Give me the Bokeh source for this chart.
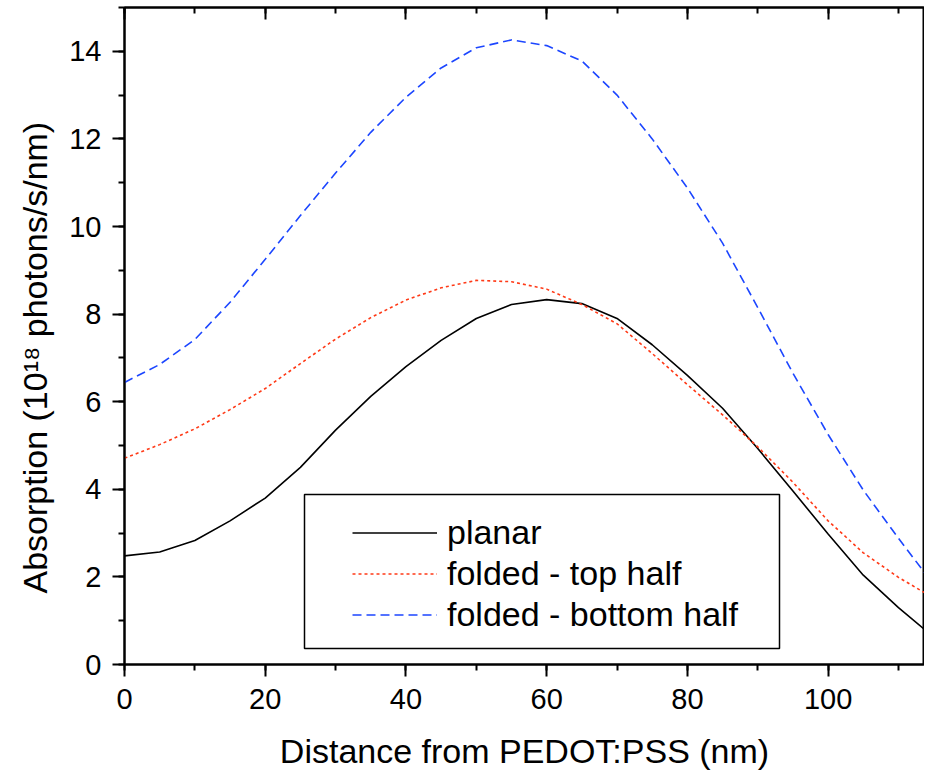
from bokeh.plotting import figure
from bokeh.models import (Range1d, LinearAxis, SingleIntervalTicker, Title,
                          Legend, LegendItem, BoxAnnotation,
                          CustomLabelingPolicy)
from bokeh.embed import file_html
from bokeh.resources import INLINE

# ---------------- data ----------------
distance = [0, 5, 10, 15, 20, 25, 30, 35, 40, 45, 50, 55, 60, 65, 70, 75,
            80, 85, 90, 95, 100, 105, 110, 113.7]
planar = [2.48, 2.57, 2.83, 3.28, 3.80, 4.50, 5.35, 6.12, 6.80, 7.40, 7.90,
          8.22, 8.33, 8.24, 7.90, 7.30, 6.60, 5.85, 4.93, 3.96, 2.98, 2.04,
          1.30, 0.80]
folded_top = [4.71, 5.02, 5.38, 5.82, 6.30, 6.87, 7.43, 7.92, 8.32, 8.60,
              8.77, 8.74, 8.57, 8.22, 7.78, 7.10, 6.39, 5.70, 4.97, 4.16,
              3.28, 2.55, 1.99, 1.64]
folded_bottom = [6.44, 6.85, 7.42, 8.27, 9.25, 10.25, 11.22, 12.15, 12.95,
                 13.62, 14.08, 14.26, 14.13, 13.78, 13.00, 12.00, 10.88, 9.62,
                 8.15, 6.65, 5.25, 3.98, 2.88, 2.10]
series_names = ["planar", "folded - top half", "folded - bottom half"]

x_title = "Distance from PEDOT:PSS (nm)"
y_title = "Absorption (10\u00b9\u2078 photons/s/nm)"

FONT = "Liberation Sans"

p = figure(frame_width=800, frame_height=657, output_backend="svg",
           toolbar_location=None, x_range=Range1d(0, 113.7),
           y_range=Range1d(0, 15), min_border_left=124, min_border_top=7,
           min_border_right=0, min_border_bottom=0,
           background_fill_color="white", border_fill_color="white")
p.xgrid.visible = False
p.ygrid.visible = False
p.outline_line_color = "black"
p.outline_line_width = 2

xax = p.xaxis[0]
yax = p.yaxis[0]
xax.ticker = SingleIntervalTicker(interval=20, num_minor_ticks=2)
yax.ticker = SingleIntervalTicker(interval=2, num_minor_ticks=2)
for ax in (xax, yax):
    ax.axis_line_width = 2
    ax.axis_line_color = "black"
    ax.major_tick_line_width = 2
    ax.minor_tick_line_width = 2
    ax.major_tick_line_color = "black"
    ax.minor_tick_line_color = "black"
    ax.major_tick_out = 12
    ax.major_tick_in = 0
    ax.minor_tick_out = 6
    ax.minor_tick_in = 0
    ax.major_label_text_font = FONT
    ax.major_label_text_font_size = "29px"
    ax.major_label_text_color = "black"
xax.major_label_standoff = 12
yax.major_label_standoff = 11
xax.axis_label = x_title
xax.axis_label_text_font = FONT
xax.axis_label_text_font_size = "34px"
xax.axis_label_text_font_style = "normal"
xax.axis_label_text_color = "black"
xax.axis_label_standoff = 20

top = LinearAxis(ticker=SingleIntervalTicker(interval=20, num_minor_ticks=2),
                 major_tick_in=12, major_tick_out=0, minor_tick_in=6,
                 minor_tick_out=0, major_tick_line_width=2,
                 minor_tick_line_width=2, axis_line_width=2,
                 major_label_text_font_size="1px", major_label_standoff=0,
                 major_label_policy=CustomLabelingPolicy(
                     code="for (const i of indices) indices.unset(i)"))
p.add_layout(top, "above")

ytitle = Title(text=y_title, align="left", offset=71, standoff=26,
               text_font=FONT, text_font_size="34px",
               text_font_style="normal", text_color="black")
p.add_layout(ytitle, "left")

r1 = p.line(distance, planar, line_color="black", line_width=1.6)
r2 = p.line(distance, folded_top, line_color="#ff3a17", line_width=1.6,
            line_dash="3 3")
r3 = p.line(distance, folded_bottom, line_color="#1c46ff", line_width=1.6,
            line_dash="9 5")

box = BoxAnnotation(left=180, right=655, bottom=16, top=170,
                    left_units="screen", right_units="screen",
                    bottom_units="screen", top_units="screen",
                    fill_color="white", fill_alpha=1.0,
                    line_color="black", line_width=1.5, line_alpha=1.0)
p.add_layout(box)

legend = Legend(items=[LegendItem(label=series_names[0], renderers=[r1]),
                       LegendItem(label=series_names[1], renderers=[r2]),
                       LegendItem(label=series_names[2], renderers=[r3])],
                location=(213, 14), padding=15, spacing=0, margin=0,
                glyph_width=85, glyph_height=41, label_height=41,
                label_standoff=10, label_text_font=FONT,
                label_text_font_size="34px", label_text_color="black",
                background_fill_alpha=0, border_line_alpha=0)
p.add_layout(legend)

open("out.html", "w").write(file_html(p, INLINE))
